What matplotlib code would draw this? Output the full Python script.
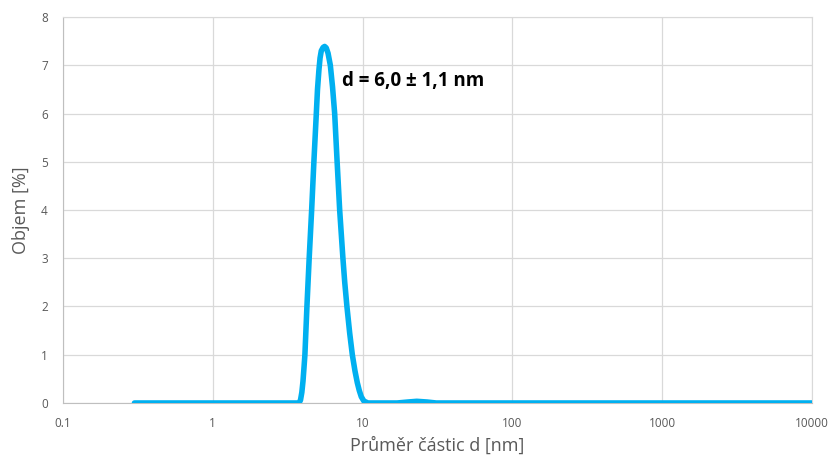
import matplotlib
matplotlib.use("Agg")
import matplotlib.pyplot as plt
from matplotlib.ticker import FixedLocator, FixedFormatter

# particle size distribution (volume %)
d_nm = [0.3, 1.0, 3.0, 3.76, 3.85, 3.93, 4.0, 4.06, 4.12, 4.25, 4.4, 4.57,
        4.73, 4.91, 5.0, 5.11, 5.2, 5.3, 5.45, 5.58, 5.72, 5.88, 6.09, 6.3,
        6.51, 6.76, 7.03, 7.39, 7.6, 7.86, 8.2, 8.54, 8.9, 9.22, 9.5, 9.8,
        10.2, 10.85, 12.0, 17.0, 20.0, 23.0, 27.0, 31.0,
        100.0, 1000.0, 10000.0]
objem = [0, 0, 0, 0, 0.06, 0.22, 0.45, 0.72, 1.0, 2.0, 3.0, 4.0,
         5.0, 6.0, 6.5, 6.9, 7.15, 7.3, 7.37, 7.39, 7.36, 7.25, 7.0, 6.55,
         6.0, 5.0, 4.0, 3.0, 2.5, 2.0, 1.45, 1.0, 0.66, 0.42, 0.26, 0.13,
         0.04, 0, 0, 0, 0.02, 0.035, 0.02, 0,
         0, 0, 0]

x_ticks = [0.1, 1, 10, 100, 1000, 10000]
x_labels = ["0.1", "1", "10", "100", "1000", "10000"]
y_ticks = [0, 1, 2, 3, 4, 5, 6, 7, 8]

plt.rcParams['font.family'] = ['Open Sans', 'DejaVu Sans']

fig = plt.figure(figsize=(8.3, 4.55), dpi=100)
ax = fig.add_axes([0.0759, 0.1143, 0.9024, 0.8483])

ax.plot(d_nm, objem, color="#00B0F0", lw=4.0, solid_joinstyle="round",
        solid_capstyle="round", zorder=3)

ax.set_xscale("log")
ax.set_xlim(0.1, 10000)
ax.set_ylim(0, 8)
ax.xaxis.set_major_locator(FixedLocator(x_ticks))
ax.xaxis.set_major_formatter(FixedFormatter(x_labels))
ax.xaxis.set_minor_locator(FixedLocator([]))
ax.set_yticks(y_ticks)

ax.grid(True, color="#D9D9D9", lw=0.9)
ax.set_axisbelow(True)
for s in ["top", "right"]:
    ax.spines[s].set_color("#D9D9D9")
for s in ["left", "bottom"]:
    ax.spines[s].set_color("#BFBFBF")
ax.tick_params(length=0, labelsize=8.5, colors="#595959")
ax.tick_params(axis="x", pad=10)
ax.tick_params(axis="y", pad=11)

ax.set_xlabel("Průměr částic d [nm]", fontsize=13, color="#595959", labelpad=5)
ax.set_ylabel("Objem [%]", fontsize=13, color="#595959", labelpad=8)

ax.text(7.24, 6.67, "d = 6,0 ± 1,1 nm", fontsize=13.5, fontweight="bold",
        color="black", ha="left", va="center")

fig.savefig("out.png", dpi=100)
